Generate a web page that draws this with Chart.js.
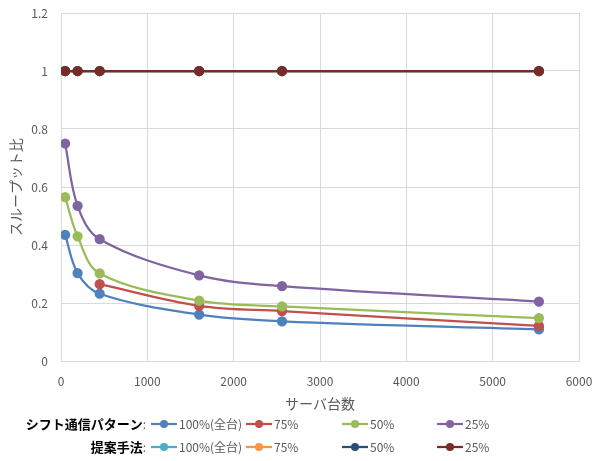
<!DOCTYPE html>
<html>
<head>
<meta charset="utf-8">
<script src="https://cdn.jsdelivr.net/npm/chart.js@4/dist/chart.umd.min.js"></script>
<style>
  html, body { margin: 0; padding: 0; background: #fff; }
  #wrap { width: 596px; height: 461px; position: relative; }
</style>
</head>
<body>
<div id="wrap"><canvas id="c" width="596" height="461"></canvas></div>
<script>
// Number of servers
const servers = [48, 192, 448, 1600, 2560, 5536];
const serversFrom448 = [448, 1600, 2560, 5536];

// Throughput ratio, shift communication pattern
const shift100 = [0.435, 0.303, 0.232, 0.160, 0.137, 0.109];
const shift75  = [0.265, 0.190, 0.172, 0.121];
const shift50  = [0.565, 0.430, 0.302, 0.208, 0.188, 0.148];
const shift25  = [0.750, 0.535, 0.420, 0.295, 0.258, 0.205];

// Throughput ratio, proposed method
const prop100 = [1, 1, 1, 1, 1, 1];
const prop75  = [1, 1, 1, 1, 1, 1];
const prop50  = [1, 1, 1, 1, 1, 1];
const prop25  = [1, 1, 1, 1, 1, 1];

const seriesLabels = ['100%(全台)', '75%', '50%', '25%'];
const rowLabels = ['シフト通信パターン', '提案手法'];
const yTicks = [0, 0.2, 0.4, 0.6, 0.8, 1, 1.2];

const shiftColors = ['#4F81BD', '#C0504D', '#9BBB59', '#8064A2'];
const propColors  = ['#4BACC6', '#F79646', '#2C4D75', '#772C2A'];

const FONT = '"Noto Sans CJK JP", "Noto Sans", sans-serif';

function pts(xs, ys) { return xs.map((x, i) => ({ x: x, y: ys[i] })); }

function ds(label, xs, ys, color, order) {
  return {
    label: label,
    data: pts(xs, ys),
    borderColor: color,
    backgroundColor: color,
    pointBackgroundColor: color,
    pointBorderColor: color,
    borderWidth: 2.25,
    pointRadius: 4,
    pointHoverRadius: 4,
    tension: 0.35,
    order: order
  };
}

const datasets = [
  ds(seriesLabels[0], servers, shift100, shiftColors[0], 7),
  ds(seriesLabels[1], serversFrom448, shift75, shiftColors[1], 6),
  ds(seriesLabels[2], servers, shift50, shiftColors[2], 5),
  ds(seriesLabels[3], servers, shift25, shiftColors[3], 4),
  ds(seriesLabels[0], servers, prop100, propColors[0], 3),
  ds(seriesLabels[1], servers, prop75, propColors[1], 2),
  ds(seriesLabels[2], servers, prop50, propColors[2], 1),
  ds(seriesLabels[3], servers, prop25, propColors[3], 0)
];

// Two-row legend below the x-axis title
const rowLegend = {
  id: 'rowLegend',
  afterDraw(chart) {
    const ctx = chart.ctx;
    const rowsY = [424, 447];
    const colX = [151, 246, 342, 437];
    ctx.save();
    rowsY.forEach((y, r) => {
      ctx.textBaseline = 'middle';
      ctx.textAlign = 'left';
      ctx.font = '12px ' + FONT;
      const colonW = ctx.measureText(':').width;
      ctx.fillStyle = '#595959';
      ctx.fillText(':', 146 - colonW, y);
      ctx.font = 'bold 13px ' + FONT;
      ctx.fillStyle = '#000';
      ctx.textAlign = 'right';
      ctx.fillText(rowLabels[r], 146 - colonW, y);
      for (let k = 0; k < 4; k++) {
        const d = chart.data.datasets[r * 4 + k];
        const x0 = colX[k];
        ctx.strokeStyle = d.borderColor;
        ctx.lineWidth = 2.25;
        ctx.beginPath();
        ctx.moveTo(x0, y);
        ctx.lineTo(x0 + 26, y);
        ctx.stroke();
        ctx.fillStyle = d.borderColor;
        ctx.beginPath();
        ctx.arc(x0 + 13, y, 4, 0, Math.PI * 2);
        ctx.fill();
        ctx.font = '12px ' + FONT;
        ctx.fillStyle = '#595959';
        ctx.textAlign = 'left';
        ctx.fillText(d.label, x0 + 28, y);
      }
    });
    ctx.restore();
  }
};

new Chart(document.getElementById('c'), {
  type: 'line',
  data: { datasets: datasets },
  options: {
    responsive: false,
    animation: false,
    layout: { padding: { left: 0, right: 17, top: 13, bottom: 0 } },
    plugins: {
      legend: { display: false },
      tooltip: { enabled: false }
    },
    scales: {
      x: {
        type: 'linear',
        min: 0, max: 6000,
        afterFit(scale) {
          scale.height = 100;
          scale.paddingLeft = 0;
          scale.paddingRight = 0;
        },
        ticks: { stepSize: 1000, color: '#595959', font: { family: FONT, size: 12 }, padding: 13,
                 callback: v => String(v) },
        grid: { color: '#D9D9D9', lineWidth: 1, drawTicks: false },
        border: { color: '#D9D9D9' },
        title: { display: true, text: 'サーバ台数', color: '#595959', font: { family: FONT, size: 14 },
                 padding: { top: 0, bottom: 48.5 } }
      },
      y: {
        min: 0, max: 1.2,
        afterFit(scale) {
          scale.width = 61;
          scale.paddingTop = 0;
          scale.paddingBottom = 0;
        },
        afterBuildTicks(axis) { axis.ticks = yTicks.map(v => ({ value: v })); },
        ticks: { color: '#595959', font: { family: FONT, size: 12 }, padding: 13,
                 callback: v => String(v) },
        grid: { color: '#D9D9D9', lineWidth: 1, drawTicks: false },
        border: { color: '#D9D9D9' },
        title: { display: true, text: 'スループット比', color: '#595959', font: { family: FONT, size: 14 },
                 padding: { top: 7.5, bottom: 0 } }
      }
    }
  },
  plugins: [rowLegend]
});
</script>
</body>
</html>
